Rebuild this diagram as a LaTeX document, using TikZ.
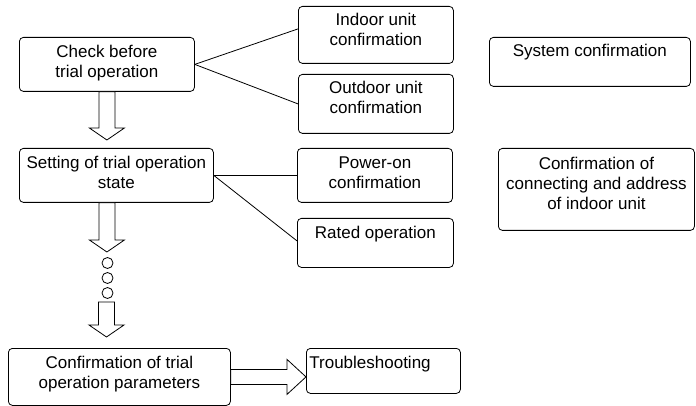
\documentclass[tikz,border=0pt]{standalone}
\usepackage{fontspec}
\setmainfont{Liberation Sans}
\usetikzlibrary{positioning,calc}

\newcommand{\blkdown}[2]{%
  \draw [black, fill=white] let \p1=(#1), \p2=(#2) in
    (\x1-8pt,\y1) -- (\x1-8pt,\y2+12pt) -- (\x1-17.5pt,\y2+12pt) -- (\x1,\y2)
    -- (\x1+17.5pt,\y2+12pt) -- (\x1+8pt,\y2+12pt) -- (\x1+8pt,\y1) -- cycle;}
\newcommand{\blkright}[2]{%
  \draw [black, fill=white] let \p1=(#1), \p2=(#2) in
    (\x1,\y1+7.5pt) -- (\x2-19pt,\y1+7.5pt) -- (\x2-19pt,\y1+17.5pt) -- (\x2,\y1)
    -- (\x2-19pt,\y1-17.5pt) -- (\x2-19pt,\y1-7.5pt) -- (\x1,\y1-7.5pt) -- cycle;}

\begin{document}
\begin{tikzpicture}[x=1pt,y=-1pt,line width=0.8pt,
  box/.style={draw, black, rounded corners=4pt, anchor=north west, inner sep=0pt},
  txt/.style={align=center, inner sep=0pt, font=\fontsize{17}{20}\selectfont},
  dot/.style={draw, black, circle, minimum size=11pt, inner sep=0pt}]
\useasboundingbox (0,0) rectangle (696,406);

\node [box, minimum width=175pt, minimum height=54pt] (chk) at (19,37) {};
\node [txt, below=8pt of chk.north] (chk-t) {Check before\\trial operation};
\node [box, minimum width=155pt, minimum height=57pt] (ind) at (298,6) {};
\node [txt, below=7pt of ind.north] (ind-t) {Indoor unit\\confirmation};
\node [box, minimum width=155pt, minimum height=59pt] (out) at (298,74) {};
\node [txt, below=7pt of out.north] (out-t) {Outdoor unit\\confirmation};
\node [box, minimum width=201pt, minimum height=49pt] (sys) at (489,37) {};
\node [txt, below=7pt of sys.north] (sys-t) {System confirmation};

\node [box, minimum width=194pt, minimum height=54pt] (set) at (19,148) {};
\node [txt, below=8pt of set.north] (set-t) {Setting of trial operation\\state};
\node [box, minimum width=155pt, minimum height=54pt] (pwr) at (297,148) {};
\node [txt, below=8pt of pwr.north] (pwr-t) {Power-on\\confirmation};
\node [box, minimum width=156pt, minimum height=49pt] (rat) at (297,218) {};
\node [txt, below=8pt of rat.north] (rat-t) {Rated operation};
\node [box, minimum width=196pt, minimum height=82pt] (cca) at (498,148) {};
\node [txt, below=9pt of cca.north] (cca-t) {Confirmation of\\connecting and address\\of indoor unit};

\node [box, minimum width=222pt, minimum height=57pt] (conf) at (8,348) {};
\node [txt, below=8pt of conf.north] (conf-t) {Confirmation of trial\\operation parameters};
\node [box, minimum width=154pt, minimum height=45pt] (trbl) at (306,348) {};
\node [txt, below right=8pt and 3pt of trbl.north west] (trbl-t) {Troubleshooting};

\draw (chk.east) -- ([yshift=6pt]ind.west);
\draw (chk.east) -- (out.west);
\draw (set.east) -- (pwr.west);
\draw (set.east) -- ([yshift=2pt]rat.west);

\coordinate (t1) at (106.5,140);
\coordinate (s2) at (set.south -| chk.south);
\coordinate (t2) at (106.5,252);
\node [dot] (d1) at (107.5,263) {};
\node [dot] (d2) at (107.5,278) {};
\node [dot] (d3) at (107.5,293) {};
\coordinate (s3) at (106.5,302);
\coordinate (t3) at (106.5,337);

\blkdown{chk.south}{t1}
\blkdown{s2}{t2}
\blkdown{s3}{t3}
\blkright{conf.east}{trbl.west}
\end{tikzpicture}
\end{document}
